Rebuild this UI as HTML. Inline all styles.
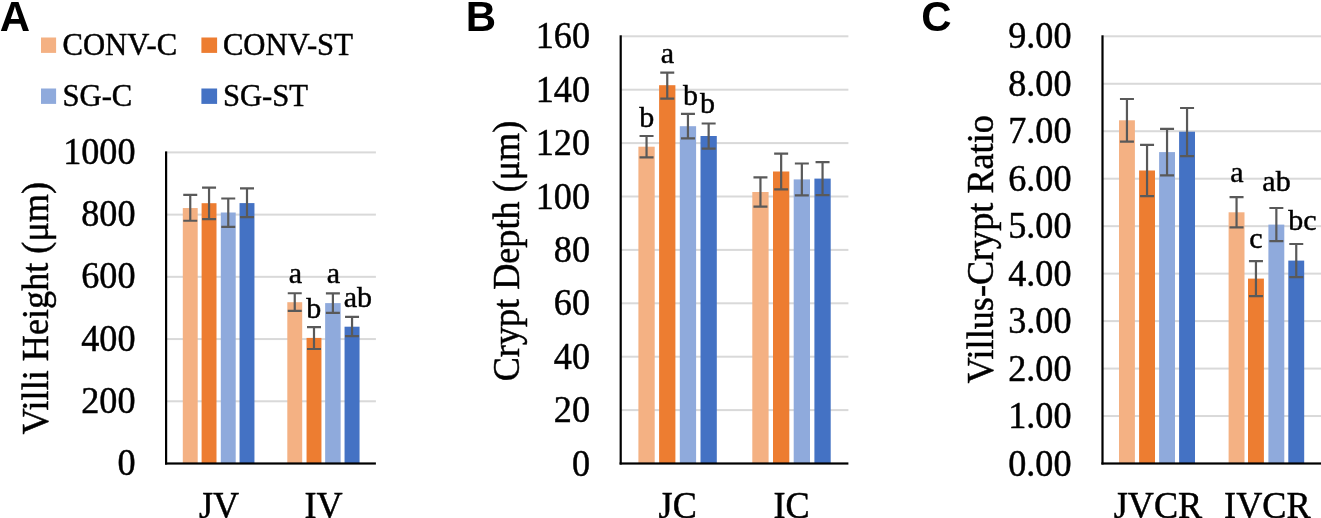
<!DOCTYPE html>
<html><head><meta charset="utf-8"><title>Figure</title>
<style>
html,body{margin:0;padding:0;background:#fff}
svg{display:block}
text{font-family:"Liberation Serif",serif;fill:#000;stroke:#000;stroke-width:0.45px}
.pl{font-family:"Liberation Sans",sans-serif;font-weight:bold;stroke:none}
</style></head><body>
<svg width="1321" height="518" viewBox="0 0 1321 518">
<rect width="1321" height="518" fill="#fff"/>
<text class="pl" x="-0.3" y="30.9" font-size="42">A</text>
<text class="pl" x="465.8" y="30.9" font-size="42">B</text>
<text class="pl" x="921.3" y="30.9" font-size="42">C</text>
<rect x="41" y="37.5" width="15.1" height="15.4" fill="#F4B183"/>
<text x="62.5" y="54.7" font-size="30.65">CONV-C</text>
<rect x="201.4" y="37.5" width="15.7" height="15.4" fill="#ED7D31"/>
<text x="222.9" y="54.7" font-size="30.65">CONV-ST</text>
<rect x="41" y="88.5" width="15.1" height="15.4" fill="#8FAADC"/>
<text x="62.5" y="105.7" font-size="30.65">SG-C</text>
<rect x="201.4" y="88.5" width="15.7" height="15.4" fill="#4472C4"/>
<text x="222.9" y="105.7" font-size="30.65">SG-ST</text>
<rect x="166.0" y="400.28" width="209.90" height="2" fill="#D9D9D9"/>
<rect x="166.0" y="338.06" width="209.90" height="2" fill="#D9D9D9"/>
<rect x="166.0" y="275.84" width="209.90" height="2" fill="#D9D9D9"/>
<rect x="166.0" y="213.62" width="209.90" height="2" fill="#D9D9D9"/>
<rect x="166.0" y="151.40" width="209.90" height="2" fill="#D9D9D9"/>
<rect x="182.80" y="208.05" width="14.9" height="255.45" fill="#F4B183"/>
<rect x="201.60" y="203.20" width="14.9" height="260.30" fill="#ED7D31"/>
<rect x="220.80" y="212.50" width="14.9" height="251.00" fill="#8FAADC"/>
<rect x="239.55" y="203.10" width="14.9" height="260.40" fill="#4472C4"/>
<rect x="287.30" y="302.20" width="14.9" height="161.30" fill="#F4B183"/>
<rect x="306.55" y="337.90" width="14.9" height="125.60" fill="#ED7D31"/>
<rect x="325.15" y="303.10" width="15.5" height="160.40" fill="#8FAADC"/>
<rect x="344.55" y="326.70" width="15.0" height="136.80" fill="#4472C4"/>
<path d="M183.25 194.90H197.25M183.25 220.75H197.25M190.25 194.90V220.75" stroke="#595959" stroke-width="2.2" fill="none"/>
<path d="M202.05 187.60H216.05M202.05 219.10H216.05M209.05 187.60V219.10" stroke="#595959" stroke-width="2.2" fill="none"/>
<path d="M221.25 198.50H235.25M221.25 226.90H235.25M228.25 198.50V226.90" stroke="#595959" stroke-width="2.2" fill="none"/>
<path d="M240.00 188.40H254.00M240.00 217.20H254.00M247.00 188.40V217.20" stroke="#595959" stroke-width="2.2" fill="none"/>
<path d="M287.75 293.25H301.75M287.75 310.90H301.75M294.75 293.25V310.90" stroke="#595959" stroke-width="2.2" fill="none"/>
<path d="M307.00 327.10H321.00M307.00 349.00H321.00M314.00 327.10V349.00" stroke="#595959" stroke-width="2.2" fill="none"/>
<path d="M325.90 293.45H339.90M325.90 312.85H339.90M332.90 293.45V312.85" stroke="#595959" stroke-width="2.2" fill="none"/>
<path d="M345.05 316.80H359.05M345.05 336.20H359.05M352.05 316.80V336.20" stroke="#595959" stroke-width="2.2" fill="none"/>
<rect x="165.00" y="151.40" width="2.2" height="313.10" fill="#000"/>
<rect x="165.00" y="462.40" width="210.90" height="2.2" fill="#000"/>
<text transform="translate(135.5 475.10) scale(1 1.025)" font-size="36.2" text-anchor="end">0</text>
<text transform="translate(135.5 412.88) scale(1 1.025)" font-size="36.2" text-anchor="end">200</text>
<text transform="translate(135.5 350.66) scale(1 1.025)" font-size="36.2" text-anchor="end">400</text>
<text transform="translate(135.5 288.44) scale(1 1.025)" font-size="36.2" text-anchor="end">600</text>
<text transform="translate(135.5 226.22) scale(1 1.025)" font-size="36.2" text-anchor="end">800</text>
<text transform="translate(135.5 164.00) scale(1 1.025)" font-size="36.2" text-anchor="end">1000</text>
<text transform="translate(219 518.2) scale(1 1.025)" font-size="36.2" text-anchor="middle">JV</text>
<text transform="translate(323.5 518.2) scale(1 1.025)" font-size="36.2" text-anchor="middle">IV</text>
<text transform="translate(47.6 308.2) rotate(-90) scale(1 1.025)" font-size="36.2" text-anchor="middle">Villi Height (μm)</text>
<text x="295.3" y="282.5" font-size="30" text-anchor="middle">a</text>
<text x="313.7" y="317.7" font-size="30" text-anchor="middle">b</text>
<text x="333.5" y="282.7" font-size="30" text-anchor="middle">a</text>
<text x="357.9" y="306.6" font-size="30" text-anchor="middle">ab</text>
<rect x="620.6" y="409.10" width="227.80" height="2" fill="#D9D9D9"/>
<rect x="620.6" y="355.70" width="227.80" height="2" fill="#D9D9D9"/>
<rect x="620.6" y="302.30" width="227.80" height="2" fill="#D9D9D9"/>
<rect x="620.6" y="248.90" width="227.80" height="2" fill="#D9D9D9"/>
<rect x="620.6" y="195.50" width="227.80" height="2" fill="#D9D9D9"/>
<rect x="620.6" y="142.10" width="227.80" height="2" fill="#D9D9D9"/>
<rect x="620.6" y="88.70" width="227.80" height="2" fill="#D9D9D9"/>
<rect x="620.6" y="35.30" width="227.80" height="2" fill="#D9D9D9"/>
<rect x="638.40" y="146.70" width="16.3" height="316.80" fill="#F4B183"/>
<rect x="659.10" y="85.20" width="16.3" height="378.30" fill="#ED7D31"/>
<rect x="679.80" y="126.20" width="16.3" height="337.30" fill="#8FAADC"/>
<rect x="700.50" y="136.00" width="16.3" height="327.50" fill="#4472C4"/>
<rect x="752.30" y="192.00" width="16.3" height="271.50" fill="#F4B183"/>
<rect x="773.00" y="171.50" width="16.3" height="292.00" fill="#ED7D31"/>
<rect x="793.70" y="179.40" width="16.3" height="284.10" fill="#8FAADC"/>
<rect x="814.40" y="178.60" width="16.3" height="284.90" fill="#4472C4"/>
<path d="M639.55 136.00H653.55M639.55 157.30H653.55M646.55 136.00V157.30" stroke="#595959" stroke-width="2.2" fill="none"/>
<path d="M660.25 72.60H674.25M660.25 98.70H674.25M667.25 72.60V98.70" stroke="#595959" stroke-width="2.2" fill="none"/>
<path d="M680.95 113.90H694.95M680.95 138.40H694.95M687.95 113.90V138.40" stroke="#595959" stroke-width="2.2" fill="none"/>
<path d="M701.65 123.50H715.65M701.65 148.60H715.65M708.65 123.50V148.60" stroke="#595959" stroke-width="2.2" fill="none"/>
<path d="M753.45 177.30H767.45M753.45 206.60H767.45M760.45 177.30V206.60" stroke="#595959" stroke-width="2.2" fill="none"/>
<path d="M774.15 153.60H788.15M774.15 189.30H788.15M781.15 153.60V189.30" stroke="#595959" stroke-width="2.2" fill="none"/>
<path d="M794.85 163.50H808.85M794.85 195.40H808.85M801.85 163.50V195.40" stroke="#595959" stroke-width="2.2" fill="none"/>
<path d="M815.55 162.10H829.55M815.55 195.20H829.55M822.55 162.10V195.20" stroke="#595959" stroke-width="2.2" fill="none"/>
<rect x="619.60" y="35.30" width="2.2" height="429.20" fill="#000"/>
<rect x="619.60" y="462.40" width="228.80" height="2.2" fill="#000"/>
<text transform="translate(590.0 475.50) scale(1 1.025)" font-size="36.2" text-anchor="end">0</text>
<text transform="translate(590.0 422.10) scale(1 1.025)" font-size="36.2" text-anchor="end">20</text>
<text transform="translate(590.0 368.70) scale(1 1.025)" font-size="36.2" text-anchor="end">40</text>
<text transform="translate(590.0 315.30) scale(1 1.025)" font-size="36.2" text-anchor="end">60</text>
<text transform="translate(590.0 261.90) scale(1 1.025)" font-size="36.2" text-anchor="end">80</text>
<text transform="translate(590.0 208.50) scale(1 1.025)" font-size="36.2" text-anchor="end">100</text>
<text transform="translate(590.0 155.10) scale(1 1.025)" font-size="36.2" text-anchor="end">120</text>
<text transform="translate(590.0 101.70) scale(1 1.025)" font-size="36.2" text-anchor="end">140</text>
<text transform="translate(590.0 48.30) scale(1 1.025)" font-size="36.2" text-anchor="end">160</text>
<text transform="translate(677.7 518.2) scale(1 1.025)" font-size="36.2" text-anchor="middle">JC</text>
<text transform="translate(791.6 518.2) scale(1 1.025)" font-size="36.2" text-anchor="middle">IC</text>
<text transform="translate(518.7 251) rotate(-90) scale(1 1.025)" font-size="36.2" text-anchor="middle">Crypt Depth (μm)</text>
<text x="646.8" y="126.7" font-size="30" text-anchor="middle">b</text>
<text x="667.3" y="62.7" font-size="30" text-anchor="middle">a</text>
<text x="690.4" y="104.6" font-size="30" text-anchor="middle">b</text>
<text x="707.6" y="112.9" font-size="30" text-anchor="middle">b</text>
<rect x="1102.4" y="415.03" width="218.60" height="2" fill="#D9D9D9"/>
<rect x="1102.4" y="367.57" width="218.60" height="2" fill="#D9D9D9"/>
<rect x="1102.4" y="320.10" width="218.60" height="2" fill="#D9D9D9"/>
<rect x="1102.4" y="272.63" width="218.60" height="2" fill="#D9D9D9"/>
<rect x="1102.4" y="225.17" width="218.60" height="2" fill="#D9D9D9"/>
<rect x="1102.4" y="177.70" width="218.60" height="2" fill="#D9D9D9"/>
<rect x="1102.4" y="130.23" width="218.60" height="2" fill="#D9D9D9"/>
<rect x="1102.4" y="82.77" width="218.60" height="2" fill="#D9D9D9"/>
<rect x="1102.4" y="35.30" width="218.60" height="2" fill="#D9D9D9"/>
<rect x="1119.00" y="120.30" width="15.9" height="343.20" fill="#F4B183"/>
<rect x="1139.10" y="170.50" width="15.9" height="293.00" fill="#ED7D31"/>
<rect x="1159.10" y="152.10" width="15.9" height="311.40" fill="#8FAADC"/>
<rect x="1179.10" y="131.70" width="15.9" height="331.80" fill="#4472C4"/>
<rect x="1228.60" y="212.30" width="15.9" height="251.20" fill="#F4B183"/>
<rect x="1248.00" y="278.60" width="15.9" height="184.90" fill="#ED7D31"/>
<rect x="1268.40" y="224.60" width="15.9" height="238.90" fill="#8FAADC"/>
<rect x="1288.30" y="260.60" width="15.9" height="202.90" fill="#4472C4"/>
<path d="M1119.95 99.00H1133.95M1119.95 141.60H1133.95M1126.95 99.00V141.60" stroke="#595959" stroke-width="2.2" fill="none"/>
<path d="M1140.05 144.90H1154.05M1140.05 196.10H1154.05M1147.05 144.90V196.10" stroke="#595959" stroke-width="2.2" fill="none"/>
<path d="M1160.05 128.80H1174.05M1160.05 175.30H1174.05M1167.05 128.80V175.30" stroke="#595959" stroke-width="2.2" fill="none"/>
<path d="M1180.05 108.00H1194.05M1180.05 156.20H1194.05M1187.05 108.00V156.20" stroke="#595959" stroke-width="2.2" fill="none"/>
<path d="M1229.55 197.10H1243.55M1229.55 227.40H1243.55M1236.55 197.10V227.40" stroke="#595959" stroke-width="2.2" fill="none"/>
<path d="M1248.95 261.10H1262.95M1248.95 296.20H1262.95M1255.95 261.10V296.20" stroke="#595959" stroke-width="2.2" fill="none"/>
<path d="M1269.35 208.00H1283.35M1269.35 241.20H1283.35M1276.35 208.00V241.20" stroke="#595959" stroke-width="2.2" fill="none"/>
<path d="M1289.25 244.00H1303.25M1289.25 277.20H1303.25M1296.25 244.00V277.20" stroke="#595959" stroke-width="2.2" fill="none"/>
<rect x="1101.40" y="35.30" width="2.2" height="429.20" fill="#000"/>
<rect x="1101.40" y="462.40" width="219.60" height="2.2" fill="#000"/>
<text transform="translate(1071.5 475.50) scale(1 1.025)" font-size="36.2" text-anchor="end">0.00</text>
<text transform="translate(1071.5 428.03) scale(1 1.025)" font-size="36.2" text-anchor="end">1.00</text>
<text transform="translate(1071.5 380.57) scale(1 1.025)" font-size="36.2" text-anchor="end">2.00</text>
<text transform="translate(1071.5 333.10) scale(1 1.025)" font-size="36.2" text-anchor="end">3.00</text>
<text transform="translate(1071.5 285.63) scale(1 1.025)" font-size="36.2" text-anchor="end">4.00</text>
<text transform="translate(1071.5 238.17) scale(1 1.025)" font-size="36.2" text-anchor="end">5.00</text>
<text transform="translate(1071.5 190.70) scale(1 1.025)" font-size="36.2" text-anchor="end">6.00</text>
<text transform="translate(1071.5 143.23) scale(1 1.025)" font-size="36.2" text-anchor="end">7.00</text>
<text transform="translate(1071.5 95.77) scale(1 1.025)" font-size="36.2" text-anchor="end">8.00</text>
<text transform="translate(1071.5 48.30) scale(1 1.025)" font-size="36.2" text-anchor="end">9.00</text>
<text transform="translate(1158 518.2) scale(1 1.025)" font-size="36.2" text-anchor="middle">JVCR</text>
<text transform="translate(1267.3 518.2) scale(1 1.025)" font-size="36.2" text-anchor="middle">IVCR</text>
<text transform="translate(992.5 249.3) rotate(-90) scale(1 1.025)" font-size="36.2" text-anchor="middle">Villus-Crypt Ratio</text>
<text x="1236.9" y="181.6" font-size="30" text-anchor="middle">a</text>
<text x="1255.9" y="247.7" font-size="30" text-anchor="middle">c</text>
<text x="1276.5" y="191.3" font-size="30" text-anchor="middle">ab</text>
<text x="1302.5" y="230.1" font-size="30" text-anchor="middle">bc</text>
</svg></body></html>
